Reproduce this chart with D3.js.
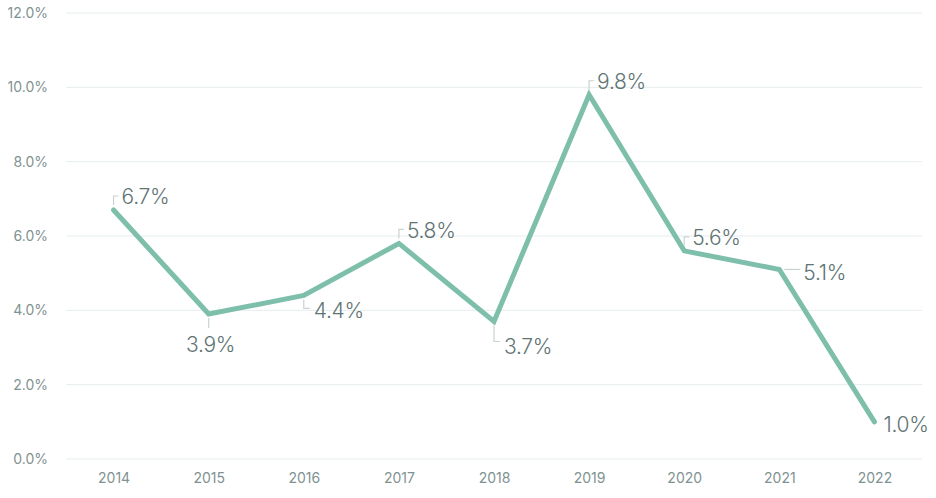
<!DOCTYPE html>
<html><head><meta charset="utf-8">
<script src="https://cdn.jsdelivr.net/npm/d3@7"></script>
<style>
html,body{margin:0;padding:0;background:#fff;}
svg{display:block;font-family:Inter,"Noto Sans",sans-serif;}
</style></head>
<body>
<svg id="chart" width="936" height="498"></svg>
<script>
const years = ["2014","2015","2016","2017","2018","2019","2020","2021","2022"];
const growth = [6.7, 3.9, 4.4, 5.8, 3.7, 9.8, 5.6, 5.1, 1.0];
const yTicks = [0, 2, 4, 6, 8, 10, 12];
// label placement style per point (leader direction)
const labelStyle = ["up","below","downRight","up","downRightLong","up","up","right","plain"];

const W = 936, H = 498;
const m = {left: 66, right: 14, top: 13, bottom: 39};
const svg = d3.select("#chart");

const x = d3.scalePoint().domain(years).range([m.left, W - m.right]).padding(0.5);
const y = d3.scaleLinear().domain([0, 12]).range([H - m.bottom, m.top]);

// grid
svg.append("g").selectAll("line").data(yTicks).join("line")
  .attr("x1", m.left).attr("x2", W - m.right)
  .attr("y1", d => y(d)).attr("y2", d => y(d))
  .attr("stroke", "#e6eded").attr("stroke-width", 1);

// y axis
const yAxis = svg.append("g").attr("transform", `translate(${m.left - 18},0)`)
  .call(d3.axisLeft(y).tickValues(yTicks).tickFormat(d => d.toFixed(1) + "%").tickSize(0).tickPadding(0));
yAxis.select(".domain").remove();
yAxis.selectAll("text").attr("fill", "#7f9292").style("font-size", "14px")
  .style("font-weight", "400").style("font-family", "Inter,sans-serif");

// x axis
const xAxis = svg.append("g").attr("transform", `translate(0,${H - m.bottom + 14})`)
  .call(d3.axisBottom(x).tickSize(0).tickPadding(0));
xAxis.select(".domain").remove();
xAxis.selectAll("text").attr("fill", "#7f9292").style("font-size", "14px")
  .style("font-weight", "400").style("font-family", "Inter,sans-serif").attr("dy", "0.71em");

const data = years.map((yr, i) => ({yr, v: growth[i], s: labelStyle[i]}));

// line
svg.append("path").datum(data)
  .attr("fill", "none").attr("stroke", "#7dbfab").attr("stroke-width", 5)
  .attr("stroke-linejoin", "miter").attr("stroke-linecap", "round")
  .attr("d", d3.line().x(d => x(d.yr)).y(d => y(d.v)));

// annotations
const ann = svg.append("g");
data.forEach(d => {
  const px = x(d.yr), py = y(d.v);
  let path = null, tx, ty, anchor = "start";
  switch (d.s) {
    case "up":
      path = `M${px},${py-5}V${py-14}H${px+5}`; tx = px + 8; ty = py - 13; break;
    case "below":
      path = `M${px},${py+4}V${py+14}`; tx = px + 2; ty = py + 31; anchor = "middle"; break;
    case "downRight":
      path = `M${px},${py+4}V${py+13}H${px+6}`; tx = px + 10; ty = py + 15; break;
    case "downRightLong":
      path = `M${px},${py+4}V${py+20}H${px+6}`; tx = px + 10; ty = py + 25; break;
    case "right":
      path = `M${px+5},${py}H${px+21}`; tx = px + 24; ty = py + 3; break;
    default:
      tx = px + 9; ty = py + 3;
  }
  if (path) ann.append("path").attr("d", path).attr("fill", "none")
    .attr("stroke", "#c9d2d2").attr("stroke-width", 1.2);
  ann.append("text").attr("x", tx).attr("y", ty).attr("dy", "0.35em")
    .attr("text-anchor", anchor).attr("fill", "#5f7474")
    .style("font-size", "21px").style("font-weight", "300")
    .style("letter-spacing", "-0.3px").text(d.v.toFixed(1) + "%");
});
</script>
</body></html>
